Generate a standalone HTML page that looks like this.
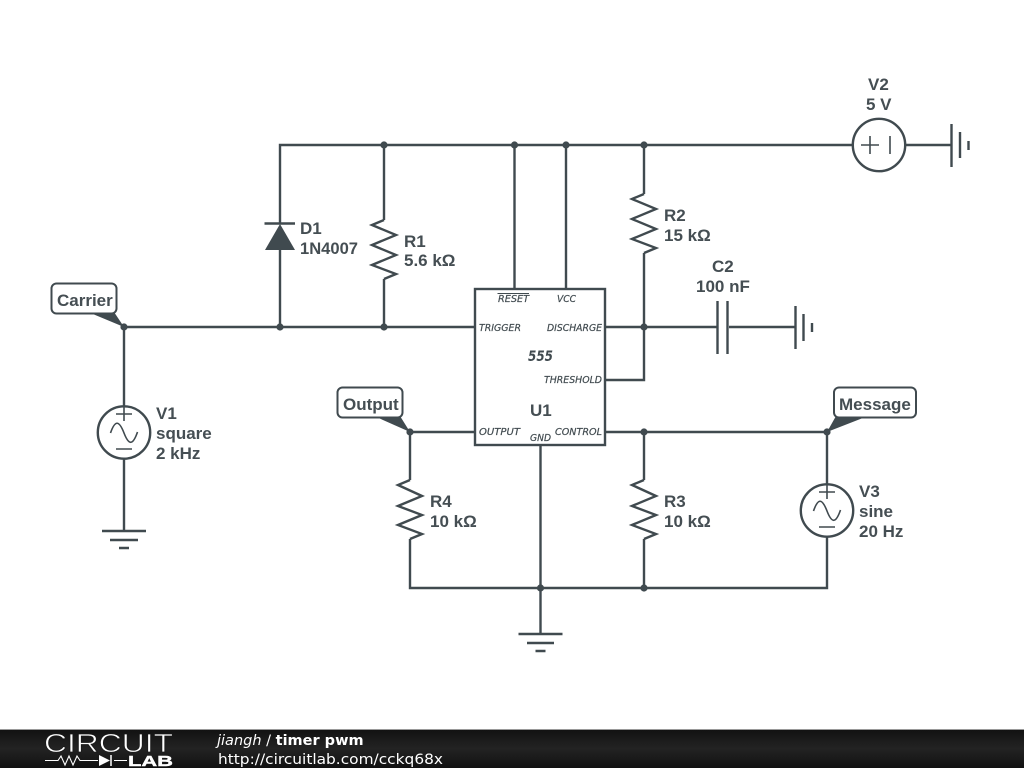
<!DOCTYPE html>
<html><head><meta charset="utf-8"><title>timer pwm</title>
<style>
html,body{margin:0;padding:0;background:#fff;width:1024px;height:768px;overflow:hidden}
svg{display:block}
.w{fill:none;stroke:#404a4f;stroke-width:2.4;stroke-linejoin:miter}
.t{stroke-width:1.6}
.d{fill:#404a4f}
.l{font-family:"Liberation Sans",sans-serif;font-size:17px;font-weight:bold;fill:#454e53}
.p{font-family:"DejaVu Sans",sans-serif;font-size:10px;font-style:italic;fill:#404a4f;stroke:#404a4f;stroke-width:.2}
.f{font-family:"DejaVu Sans",sans-serif;fill:#fff}
</style></head><body>
<svg width="1024" height="768" viewBox="0 0 1024 768" xmlns="http://www.w3.org/2000/svg">
<defs>
<linearGradient id="bar" x1="0" y1="0" x2="0" y2="1"><stop offset="0" stop-color="#111"/><stop offset=".5" stop-color="#232323"/><stop offset="1" stop-color="#111"/></linearGradient>
</defs>
<rect width="1024" height="768" fill="#fff"/>

<!-- wires -->
<path class="w" d="M852 145H280V224M280 249V327M124 327H475M384 145V220M384 279V327M514.500 145V289M566 145V289M644 145V194M644 253V380H605M605 327H717M729 327H795M605 432H827M475 432H410V480M410 539V588H827V537M540.500 445V634M644 432V480M644 539V588M827 432V484M124 327V407M124 459V531M905 145H951"/>

<!-- junctions -->
<g class="d">
<circle cx="384" cy="145" r="3.600"/><circle cx="514.500" cy="145" r="3.600"/><circle cx="566" cy="145" r="3.600"/><circle cx="644" cy="145" r="3.600"/>
<circle cx="124" cy="327" r="3.600"/><circle cx="280" cy="327" r="3.600"/><circle cx="384" cy="327" r="3.600"/><circle cx="644" cy="327" r="3.600"/>
<circle cx="410" cy="432" r="3.600"/><circle cx="644" cy="432" r="3.600"/><circle cx="827" cy="432" r="3.600"/>
<circle cx="540.500" cy="588" r="3.600"/><circle cx="644" cy="588" r="3.600"/>
</g>

<!-- diode -->
<path class="w" d="M264.500 223.500H295"/>
<polygon class="d" points="280,224 295,250 265,250"/>

<!-- resistors -->
<path class="w" d="M384 220L372 225L396 235L372 245L396 255L372 265L396 274L384 279"/>
<path class="w" d="M644 194L632 199L656 209L632 219L656 229L632 239L656 248L644 253"/>
<path class="w" d="M410 480L398 485L422 496L398 506L422 515L398 525L422 534L410 539"/>
<path class="w" d="M644 480L632 485L656 496L632 506L656 515L632 525L656 534L644 539"/>

<!-- capacitor -->
<path class="w" d="M717.500 301V354M727.500 301V354"/>

<!-- grounds -->
<path class="w" d="M951.500 124V167M960 132V158M968.500 141V150"/>
<path class="w" d="M795.500 306V349M803.500 314V341M812 323V332"/>
<path class="w" d="M102 531H146M110 540H138M119 548H129"/>
<path class="w" d="M518.500 634H562.500M527 643H554M535.500 651H545.500"/>

<!-- sources -->
<circle class="w" cx="879" cy="145" r="26.200" fill="#fff"/>
<path class="w t" d="M861 145H879M870 136V154M890 136V154"/>
<circle class="w" cx="124" cy="432.500" r="26.200"/>
<path class="w t" d="M116 414H132M124 406V421M116 449H132"/>
<path class="w t" d="M110.500 433C115 420 119 420 124 433S133 445 137.500 432"/>
<circle class="w" cx="827" cy="510.500" r="26.200"/>
<path class="w t" d="M819 492H835M827 484V499M819 527H835"/>
<path class="w t" d="M813.500 511C818 498 822 498 827 511S836 523 840.500 510"/>

<!-- 555 -->
<rect class="w" x="475" y="289" width="130" height="156" fill="#fff"/>
<g class="p">
<text x="498" y="302" textLength="31" lengthAdjust="spacingAndGlyphs">RESET</text>
<text x="557" y="302" textLength="19" lengthAdjust="spacingAndGlyphs">VCC</text>
<text x="479" y="331" textLength="42" lengthAdjust="spacingAndGlyphs">TRIGGER</text>
<text x="547" y="331" textLength="55" lengthAdjust="spacingAndGlyphs">DISCHARGE</text>
<text x="544" y="383" textLength="58" lengthAdjust="spacingAndGlyphs">THRESHOLD</text>
<text x="479" y="435" textLength="41" lengthAdjust="spacingAndGlyphs">OUTPUT</text>
<text x="555" y="435" textLength="47" lengthAdjust="spacingAndGlyphs">CONTROL</text>
<text x="530" y="441" textLength="21" lengthAdjust="spacingAndGlyphs">GND</text>
</g>
<path d="M497.500 293.500H529" stroke="#404a4f" stroke-width="1" fill="none"/>
<text x="528" y="361" font-family="DejaVu Sans,sans-serif" font-size="14" font-style="italic" font-weight="bold" fill="#404a4f" textLength="25" lengthAdjust="spacingAndGlyphs">555</text>

<!-- net tags -->
<polygon class="d" points="88,312 114,312 124,327"/>
<rect x="51.500" y="283.500" width="65" height="30" rx="5" fill="#fff" stroke="#404a4f" stroke-width="2"/>
<polygon class="d" points="374,416 400,416 410,432"/>
<rect x="337.500" y="387.500" width="65" height="30" rx="5" fill="#fff" stroke="#404a4f" stroke-width="2"/>
<polygon class="d" points="827,432 836,416 868,416"/>
<rect x="834" y="387.500" width="82" height="30" rx="5" fill="#fff" stroke="#404a4f" stroke-width="2"/>

<!-- labels -->
<g class="l">
<text x="57" y="306">Carrier</text>
<text x="343" y="410">Output</text>
<text x="839" y="410">Message</text>
<text x="530" y="416">U1</text>
<text x="868" y="90">V2</text>
<text x="866" y="110">5 V</text>
<text x="300" y="234">D1</text>
<text x="300" y="254" textLength="58" lengthAdjust="spacingAndGlyphs">1N4007</text>
<text x="404" y="247">R1</text>
<text x="404" y="266">5.6 kΩ</text>
<text x="664" y="221">R2</text>
<text x="664" y="241">15 kΩ</text>
<text x="712" y="272">C2</text>
<text x="696" y="292">100 nF</text>
<text x="430" y="507">R4</text>
<text x="430" y="527">10 kΩ</text>
<text x="664" y="507">R3</text>
<text x="664" y="527">10 kΩ</text>
<text x="156" y="419">V1</text>
<text x="156" y="439">square</text>
<text x="156" y="459">2 kHz</text>
<text x="859" y="497">V3</text>
<text x="859" y="517">sine</text>
<text x="859" y="537">20 Hz</text>
</g>

<!-- footer -->
<rect x="0" y="729" width="1024" height="39" fill="url(#bar)"/>
<rect x="0" y="729" width="1024" height="1" fill="#999"/>
<text x="44" y="752" font-family="Liberation Sans,sans-serif" font-size="26" fill="#fff" stroke="#1a1a1a" stroke-width=".7" textLength="129" lengthAdjust="spacingAndGlyphs">CIRCUIT</text>
<path d="M45 760.500H58L61 756L65 765L69 756L73 765L77 756L80 760.500H98M114 760.500H127" fill="none" stroke="#fff" stroke-width="1.100"/>
<polygon points="99,755 110,760.500 99,766" fill="#fff"/>
<path d="M111 755V766" stroke="#fff" stroke-width="1.500"/>
<text x="128" y="766" font-family="Liberation Sans,sans-serif" font-size="15" font-weight="bold" fill="#fff" stroke="#fff" stroke-width=".4" textLength="45" lengthAdjust="spacingAndGlyphs">LAB</text>
<text class="f" x="217" y="745" font-size="14.500"><tspan font-style="italic">jiangh</tspan> / <tspan font-weight="bold">timer pwm</tspan></text>
<text class="f" x="218" y="764" font-size="14.500" textLength="225" lengthAdjust="spacingAndGlyphs">http://circuitlab.com/cckq68x</text>
</svg>
</body></html>
